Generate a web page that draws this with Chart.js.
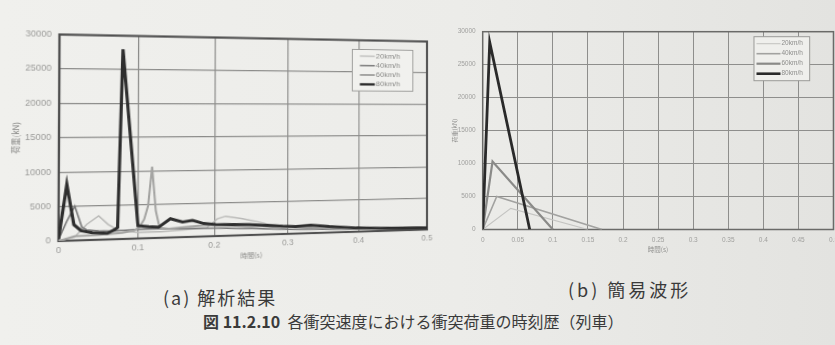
<!DOCTYPE html>
<html>
<head>
<meta charset="utf-8">
<script src="https://cdn.jsdelivr.net/npm/chart.js@4/dist/chart.umd.min.js"></script>
<style>
  html, body { margin: 0; padding: 0; }
  body {
    width: 835px; height: 345px; overflow: hidden; position: relative;
    background: linear-gradient(90deg, #f0f0ed 0%, #ecece9 55%, #e3e3e0 100%);
    font-family: 'Noto Sans CJK JP', sans-serif;
  }
  #chartA { position: absolute; left: 0; top: 0; transform-origin: 0 0; }
  #chartB { position: absolute; left: 440px; top: 0; }
  .cap { position: absolute; color: #3a3a3a; white-space: nowrap; line-height: 1; }
</style>
</head>
<body>
<canvas id="chartA" width="440" height="268"></canvas>
<canvas id="chartB" width="405" height="262"></canvas>
<div class="cap" style="left:163px; top:288px; font-size:18px; letter-spacing:2px;">(a) 解析結果</div>
<div class="cap" style="left:568px; top:280px; font-size:18px; letter-spacing:3px;">(b) 簡易波形</div>
<div class="cap" style="left:203px; top:313px; font-size:16px;"><b>図 11.2.10</b>&nbsp;&nbsp;各衝突速度における衝突荷重の時刻歴（列車）</div>

<script>
// Series names (collision speed)
const speedLabels = ['20km/h', '40km/h', '60km/h', '80km/h'];

// Axis ticks
const loadTicks = [0, 5000, 10000, 15000, 20000, 25000, 30000];
const timeTicksA = [0, 0.1, 0.2, 0.3, 0.4, 0.5];
const timeTicksB = [0, 0.05, 0.1, 0.15, 0.2, 0.25, 0.3, 0.35, 0.4, 0.45, 0.5];

// (a) analysis result: time (s) and load (kN)
const tA20 = [0, 0.02, 0.035, 0.05, 0.062, 0.075, 0.1, 0.13, 0.16, 0.19, 0.204, 0.215, 0.238, 0.26, 0.27, 0.29, 0.32, 0.36, 0.4, 0.45, 0.5];
const vA20 = [0, 500, 2300, 3500, 2200, 1300, 900, 900, 1100, 1300, 2600, 2950, 2500, 1950, 1650, 1300, 900, 600, 400, 300, 250];

const tA40 = [0, 0.01, 0.02, 0.029, 0.035, 0.05, 0.07, 0.09, 0.11, 0.14, 0.17, 0.2, 0.25, 0.3, 0.35, 0.4, 0.45, 0.5];
const vA40 = [200, 2800, 5000, 1900, 1500, 1300, 1200, 1300, 1400, 1300, 1250, 1200, 1000, 700, 550, 400, 350, 300];

const tA60 = [0, 0.02, 0.05, 0.08, 0.095, 0.102, 0.108, 0.113, 0.118, 0.123, 0.128, 0.14, 0.16, 0.19, 0.22, 0.26, 0.3, 0.35, 0.4, 0.45, 0.5];
const vA60 = [0, 600, 700, 900, 1200, 1700, 2800, 4800, 10600, 4000, 1500, 1300, 1500, 1700, 1500, 1300, 1000, 800, 500, 400, 300];

const tA80 = [0, 0.01, 0.019, 0.028, 0.042, 0.061, 0.07, 0.074, 0.08, 0.1, 0.114, 0.127, 0.142, 0.158, 0.171, 0.186, 0.202, 0.247, 0.293, 0.311, 0.332, 0.358, 0.397, 0.431, 0.5];
const vA80 = [300, 8200, 2300, 1400, 1050, 900, 1400, 1700, 28000, 1900, 1700, 1600, 2800, 2250, 2450, 1950, 1750, 1600, 1200, 1100, 1250, 950, 600, 450, 300];

// (b) simplified triangular waveforms
const tB20 = [0, 0.04, 0.15];
const vB20 = [0, 3200, 0];
const tB40 = [0, 0.02, 0.17];
const vB40 = [0, 5000, 0];
const tB60 = [0, 0.014, 0.1];
const vB60 = [0, 10300, 0];
const tB80 = [0, 0.01, 0.067];
const vB80 = [0, 28400, 0];

const toPoints = (t, v) => t.map((x, i) => ({ x: x, y: v[i] }));

// Line styles per speed (a / b)
const styleA = [
  { color: '#b9b9b7', width: 1.4 },
  { color: '#7a7a7a', width: 1.6 },
  { color: '#a4a4a2', width: 2.0 },
  { color: '#2e2e2e', width: 3.0 }
];
const styleB = [
  { color: '#c4c4c2', width: 1.1 },
  { color: '#a2a2a0', width: 1.6 },
  { color: '#8a8a88', width: 2.2 },
  { color: '#2a2a2a', width: 2.8 }
];

function makeDatasets(series, styles) {
  return series.map((s, i) => ({
    label: speedLabels[i],
    data: toPoints(s[0], s[1]),
    borderColor: styles[i].color,
    backgroundColor: styles[i].color,
    borderWidth: styles[i].width,
    pointRadius: 0,
    showLine: true,
    tension: 0,
    order: 3 - i
  }));
}

// Boxed legend drawn inside the plot area
const boxLegend = {
  id: 'boxLegend',
  afterDatasetsDraw(chart, args, o) {
    const { ctx, chartArea } = chart;
    const n = chart.data.datasets.length;
    const x0 = chartArea.right - o.right - o.width;
    const y0 = chartArea.top + o.top;
    const h = o.rowHeight * n + o.pad * 2;
    ctx.save();
    ctx.fillStyle = o.background;
    ctx.fillRect(x0, y0, o.width, h);
    ctx.strokeStyle = o.borderColor;
    ctx.lineWidth = 1;
    ctx.strokeRect(x0, y0, o.width, h);
    ctx.font = o.font;
    ctx.textBaseline = 'middle';
    chart.data.datasets.forEach((ds, i) => {
      const y = y0 + o.pad + o.rowHeight * (i + 0.5);
      ctx.strokeStyle = ds.borderColor;
      ctx.lineWidth = Math.min(ds.borderWidth, 2.6);
      ctx.beginPath();
      ctx.moveTo(x0 + o.lineStart, y);
      ctx.lineTo(x0 + o.lineStart + o.lineLength, y);
      ctx.stroke();
      ctx.fillStyle = o.color;
      ctx.fillText(ds.label, x0 + o.lineStart + o.lineLength + 1, y);
    });
    ctx.restore();
  }
};

// Plot frame
const frame = {
  id: 'frame',
  beforeDatasetsDraw(chart, args, o) {
    const { ctx, chartArea: a } = chart;
    ctx.save();
    ctx.strokeStyle = o.color;
    ctx.lineWidth = o.width;
    ctx.strokeRect(a.left, a.top, a.right - a.left, a.bottom - a.top);
    ctx.restore();
  }
};

const fmtNum = v => String(+(+v).toFixed(2));

function axes(cfg) {
  return {
    x: {
      type: 'linear', min: 0, max: 0.5,
      afterBuildTicks: s => { s.ticks = cfg.xTicks.map(v => ({ value: v })); },
      afterFit: s => { s.height = cfg.xHeight; },
      grid: { color: cfg.gridColor, lineWidth: cfg.gridWidth, drawTicks: false },
      border: { display: false },
      ticks: { color: cfg.tickColor, font: { family: 'Liberation Sans', size: cfg.tickSize }, padding: cfg.xTickPad, maxRotation: 0, autoSkip: false, callback: fmtNum },
      title: { display: true, text: '時間(s)', color: cfg.titleColor, font: { family: 'Noto Sans CJK JP', size: cfg.xTitleSize }, padding: { top: 0, bottom: cfg.xTitlePad } }
    },
    y: {
      type: 'linear', min: 0, max: 30000,
      afterBuildTicks: s => { s.ticks = loadTicks.map(v => ({ value: v })); },
      afterFit: s => { s.width = cfg.yWidth; },
      grid: { color: cfg.gridColor, lineWidth: cfg.gridWidth, drawTicks: false },
      border: { display: false },
      ticks: { color: cfg.tickColor, font: { family: 'Liberation Sans', size: cfg.tickSize }, padding: cfg.yTickPad, callback: v => String(v) },
      title: { display: true, text: '荷重(kN)', color: cfg.titleColor, font: { family: 'Noto Sans CJK JP', size: cfg.yTitleSize }, padding: { top: cfg.yTitlePad, bottom: 0 } }
    }
  };
}

// ---------- (a) 解析結果 ----------
const chartA = new Chart(document.getElementById('chartA'), {
  type: 'scatter',
  data: { datasets: makeDatasets([[tA20, vA20], [tA40, vA40], [tA60, vA60], [tA80, vA80]], styleA) },
  options: {
    responsive: false, animation: false,
    layout: { padding: { left: 0, top: 34.5, right: 13, bottom: 0 } },
    scales: axes({
      xTicks: timeTicksA, xHeight: 27, yWidth: 59,
      gridColor: '#8c8c8a', gridWidth: 1.2, tickColor: '#9c9c9a', tickSize: 8.5,
      xTickPad: 5, yTickPad: 7, titleColor: '#8a8a88',
      xTitleSize: 7, xTitlePad: 1.5, yTitleSize: 8, yTitlePad: 15
    }),
    plugins: {
      legend: { display: false }, tooltip: { enabled: false },
      frame: { color: '#505050', width: 2.2 },
      boxLegend: {
        right: 15.5, top: 10, width: 65, rowHeight: 10.2, pad: 2,
        lineStart: 8, lineLength: 16, font: "8px 'Liberation Sans'", color: '#8a8a88',
        background: '#f1f1ee', borderColor: '#9a9a98'
      }
    }
  },
  plugins: [frame, boxLegend]
});

// Slight perspective of panel (a): plot rectangle -> quadrilateral on the page
(function () {
  const a = chartA.chartArea;
  const q = [59.5, 34.5, 427, 41.5, 427, 229.5, 58.5, 241];
  const [x0, y0, x1, y1, x2, y2, x3, y3] = q;
  const dx1 = x1 - x2, dx2 = x3 - x2, dx3 = x0 - x1 + x2 - x3;
  const dy1 = y1 - y2, dy2 = y3 - y2, dy3 = y0 - y1 + y2 - y3;
  const den = dx1 * dy2 - dx2 * dy1;
  const g = (dx3 * dy2 - dx2 * dy3) / den;
  const h = (dx1 * dy3 - dx3 * dy1) / den;
  const S = [
    [x1 - x0 + g * x1, x3 - x0 + h * x3, x0],
    [y1 - y0 + g * y1, y3 - y0 + h * y3, y0],
    [g, h, 1]
  ];
  const W = a.right - a.left, H = a.bottom - a.top;
  const M = S.map(r => [r[0] / W, r[1] / H, -r[0] * a.left / W - r[1] * a.top / H + r[2]]);
  const m = [M[0][0], M[1][0], 0, M[2][0], M[0][1], M[1][1], 0, M[2][1], 0, 0, 1, 0, M[0][2], M[1][2], 0, M[2][2]];
  document.getElementById('chartA').style.transform = 'matrix3d(' + m.join(',') + ')';
})();

// ---------- (b) 簡易波形 ----------
new Chart(document.getElementById('chartB'), {
  type: 'scatter',
  data: { datasets: makeDatasets([[tB20, vB20], [tB40, vB40], [tB60, vB60], [tB80, vB80]], styleB) },
  options: {
    responsive: false, animation: false,
    layout: { padding: { left: 0, top: 31.7, right: 9.5, bottom: 0 } },
    scales: axes({
      xTicks: timeTicksB, xHeight: 32.5, yWidth: 42.7,
      gridColor: '#8e8e8c', gridWidth: 1, tickColor: '#a0a09e', tickSize: 6.5,
      xTickPad: 7, yTickPad: 7, titleColor: '#8e8e8c',
      xTitleSize: 6.5, xTitlePad: 9, yTitleSize: 6, yTitlePad: 11
    }),
    plugins: {
      legend: { display: false }, tooltip: { enabled: false },
      frame: { color: '#6a6a68', width: 1.5 },
      boxLegend: {
        right: 23.8, top: 5, width: 55.7, rowHeight: 10, pad: 2,
        lineStart: 2.5, lineLength: 24, font: "6.5px 'Liberation Sans'", color: '#8e8e8c',
        background: '#efefec', borderColor: '#9a9a98'
      }
    }
  },
  plugins: [frame, boxLegend]
});
</script>
</body>
</html>
